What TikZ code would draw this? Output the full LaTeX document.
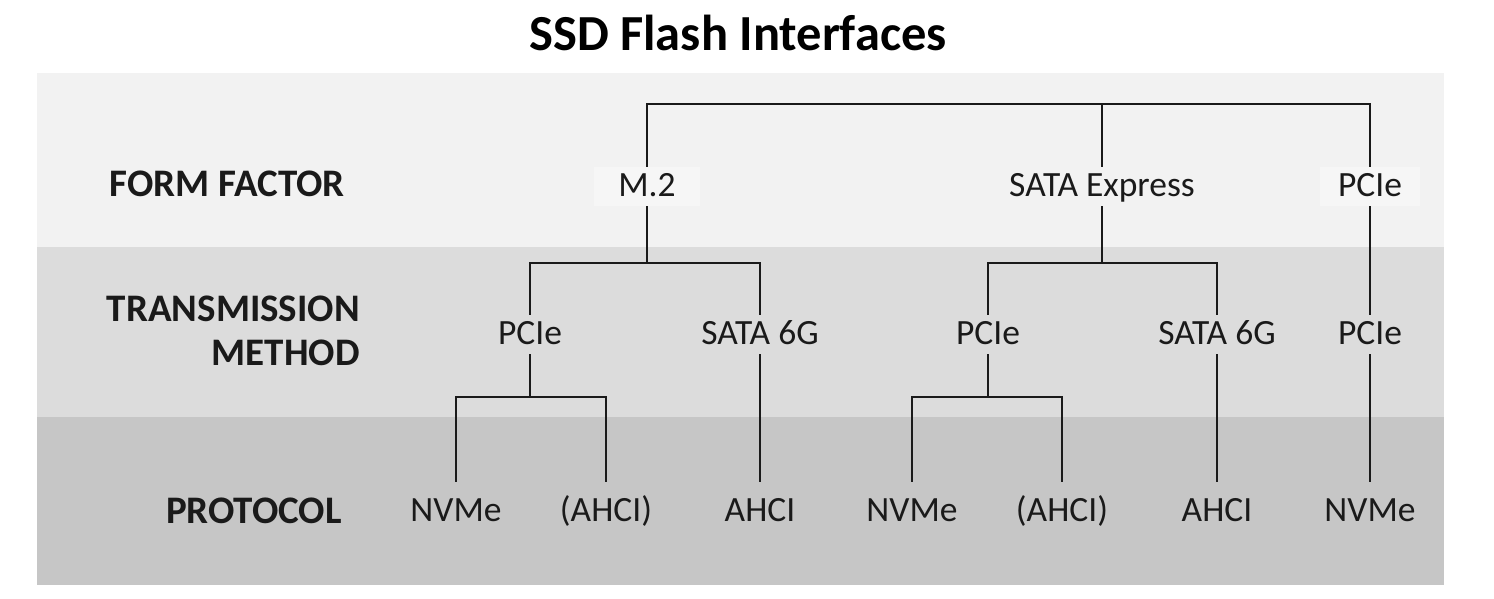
\documentclass[tikz,border=0pt]{standalone}
\usepackage{fontspec}
\setmainfont{Carlito}
\definecolor{bandA}{HTML}{F2F2F2}
\definecolor{bandB}{HTML}{DCDCDC}
\definecolor{bandC}{HTML}{C6C6C6}
\definecolor{boxlite}{HTML}{F6F6F6}
\definecolor{ink}{HTML}{1A1A1A}
\begin{document}
\begin{tikzpicture}[x=1pt,y=-1pt,
  lbl/.style={font=\fontsize{35.5}{40}\selectfont, text=ink, anchor=base,
    text height=22pt, text depth=3pt, inner ysep=7pt, inner xsep=6pt},
  botlbl/.style={lbl, text height=32pt},
  boxed/.style={fill=boxlite, inner xsep=24pt},
  rowlbl/.style={font=\bfseries\fontsize{39}{44}\selectfont, text=ink, anchor=base east, align=right, inner sep=0pt},
  wire/.style={draw=ink, line width=2.8pt},
  title/.style={font=\bfseries\fontsize{50.5}{56}\selectfont, text=black, inner sep=0pt, anchor=base}]
\useasboundingbox (0,0) rectangle (1494,598);
\fill[white] (0,0) rectangle (1494,598);
\fill[bandA] (37,73) rectangle (1444,247);
\fill[bandB] (37,247) rectangle (1444,417);
\fill[bandC] (37,417) rectangle (1444,585);

\node[title] (ttl) at (738,50) {SSD Flash Interfaces};

\node[rowlbl] (rff) at (345,196) {FORM FACTOR};
\node[rowlbl] (rtm) at (360,365) {TRANSMISSION\\METHOD};
\node[rowlbl] (rpr) at (342,523) {PROTOCOL};

\coordinate (ytop) at (0,104);
\coordinate (ymid) at (0,263);
\coordinate (ybot) at (0,397);

\node[lbl, boxed] (m2) at (647,196) {M.2};
\node[lbl] (sx) at (1102,196) {SATA Express};
\node[lbl, boxed, inner xsep=18pt] (p1) at (1370,196) {PCIe};

\node[lbl] (t1) at (530,344) {PCIe};
\node[lbl] (t2) at (760,344) {SATA 6G};
\node[lbl] (t3) at (988,344) {PCIe};
\node[lbl] (t4) at (1217,344) {SATA 6G};
\node[lbl] (t5) at (1370,344) {PCIe};

\node[botlbl] (b1) at (456,521) {NVMe};
\node[botlbl] (b2) at (606,521) {(AHCI)};
\node[botlbl] (b3) at (760,521) {AHCI};
\node[botlbl] (b4) at (912,521) {NVMe};
\node[botlbl] (b5) at (1062,521) {(AHCI)};
\node[botlbl] (b6) at (1217,521) {AHCI};
\node[botlbl] (b7) at (1370,521) {NVMe};

% level 1
\draw[wire] (m2.north) -- (m2.north |- ytop) -- (p1.north |- ytop) -- (p1.north);
\draw[wire] (sx.north) -- (sx.north |- ytop);
% level 2
\draw[wire] (m2.south) -- (m2.south |- ymid);
\draw[wire] (t1.north) -- (t1.north |- ymid) -- (t2.north |- ymid) -- (t2.north);
\draw[wire] (sx.south) -- (sx.south |- ymid);
\draw[wire] (t3.north) -- (t3.north |- ymid) -- (t4.north |- ymid) -- (t4.north);
\draw[wire] (p1.south) -- (t5.north);
% level 3
\draw[wire] (t1.south) -- (t1.south |- ybot);
\draw[wire] (b1.north) -- (b1.north |- ybot) -- (b2.north |- ybot) -- (b2.north);
\draw[wire] (t2.south) -- (b3.north);
\draw[wire] (t3.south) -- (t3.south |- ybot);
\draw[wire] (b4.north) -- (b4.north |- ybot) -- (b5.north |- ybot) -- (b5.north);
\draw[wire] (t4.south) -- (b6.north);
\draw[wire] (t5.south) -- (b7.north);
\end{tikzpicture}
\end{document}
